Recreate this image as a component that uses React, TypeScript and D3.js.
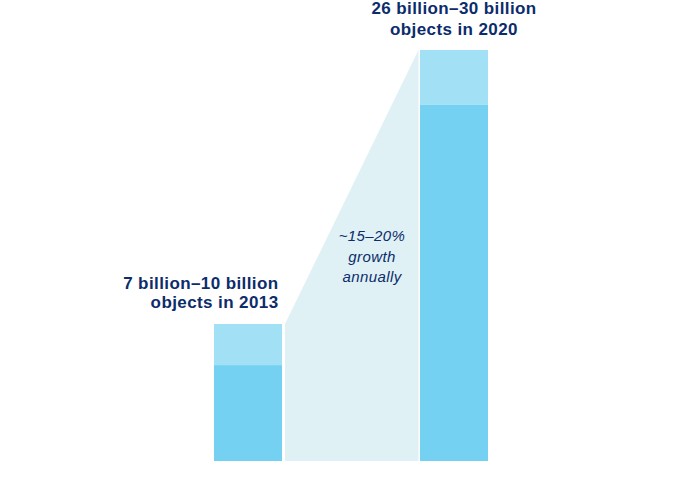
import React from "react";
import * as d3 from "d3";

const years = ["2013", "2020"];
const lowValues = [7, 26];
const highValues = [10, 30];
const labelLines = [
  ["7 billion–10 billion", "objects in 2013"],
  ["26 billion–30 billion", "objects in 2020"],
];
const growthLines = ["~15–20%", "growth", "annually"];

const W = 683;
const H = 478;

export default function App() {
  const bw = 68;
  const x = d3.scalePoint<string>().domain(years).range([214, 420]);
  const y = d3.scaleLinear().domain([0, 30]).range([461, 50]);
  const x0 = (x(years[0]) as number) + bw + 3;
  const x1 = (x(years[1]) as number) - 1.5;
  const poly = d3.line()([
    [x0, y(0)],
    [x0, y(highValues[0])],
    [x1, y(highValues[1])],
    [x1, y(0)],
  ]) + "Z";
  const font = "'Liberation Sans', Arial, Helvetica, sans-serif";
  const navy = "#0c2c6b";
  return (
    <svg width={W} height={H} style={{ position: "absolute", left: 0, top: 0 }}>
      <rect width={W} height={H} fill="#fff" />
      <path d={poly} fill="#dff1f4" />
      {years.map((yr, i) => {
        const bx = x(yr) as number;
        return (
          <g key={yr}>
            <rect x={bx} y={y(highValues[i])} width={bw} height={y(lowValues[i]) - y(highValues[i])} fill="#a2e0f5" />
            <rect x={bx} y={y(lowValues[i])} width={bw} height={y(0) - y(lowValues[i])} fill="#74d1f1" />
          </g>
        );
      })}
      <text fontFamily={font} fontWeight="bold" fontSize={17} letterSpacing={0.4} fill={navy} textAnchor="end">
        {labelLines[0].map((l, k) => (
          <tspan key={k} x={(x(years[0]) as number) + bw - 3.5} y={289 + k * 18.5}>{l}</tspan>
        ))}
      </text>
      <text fontFamily={font} fontWeight="bold" fontSize={17} letterSpacing={0.4} fill={navy} textAnchor="middle">
        {labelLines[1].map((l, k) => (
          <tspan key={k} x={(x(years[1]) as number) + bw / 2} y={14 + k * 21}>{l}</tspan>
        ))}
      </text>
      <text fontFamily={font} fontStyle="italic" fontSize={15} letterSpacing={0.4} fill={navy} textAnchor="middle">
        {growthLines.map((l, k) => (
          <tspan key={k} x={372} y={241 + k * 20.5}>{l}</tspan>
        ))}
      </text>
    </svg>
  );
}
